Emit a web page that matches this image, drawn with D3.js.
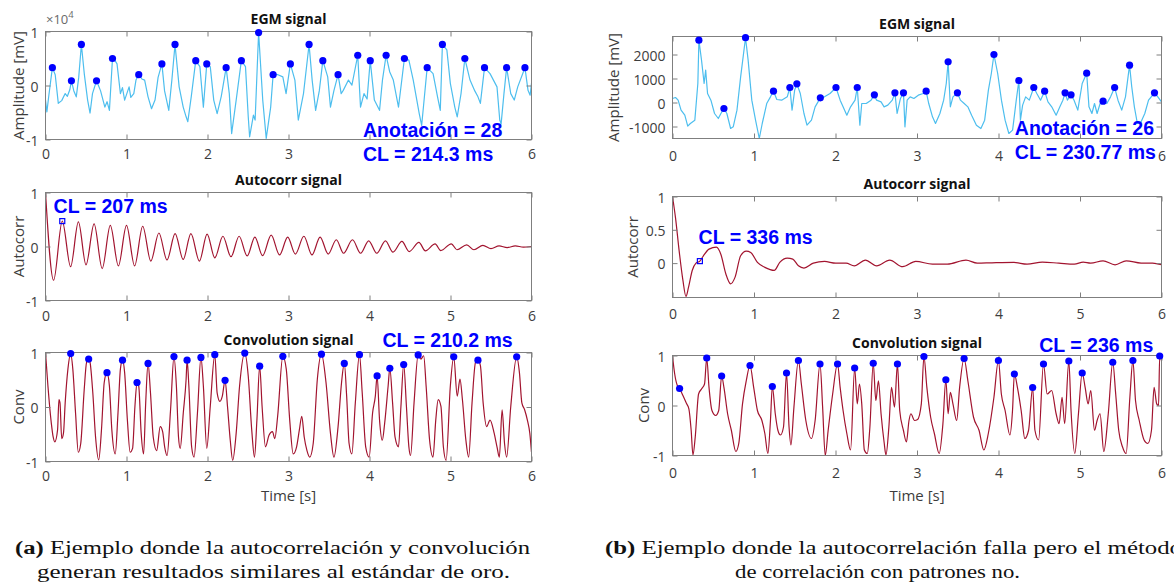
<!DOCTYPE html>
<html>
<head>
<meta charset="utf-8">
<script src="https://cdn.jsdelivr.net/npm/d3@7"></script>
<style>
  body { margin: 0; background: #fff; }
  svg { display: block; }
</style>
</head>
<body>
<svg id="fig" width="1174" height="585"></svg>
<script>
// ---------- data: [time s, value] ----------
const timeTicks = [0, 1, 2, 3, 4, 5, 6];

// (a) EGM signal, mV (axis shown x10^4)
const egmA = [[0,-2700],[0.017,-4900],[0.04,-2000],[0.085,3300],[0.12,2000],[0.158,-3300],[0.2,-2800],[0.243,-1500],[0.27,-2000],[0.3,-800],[0.32,870],[0.35,-1000],[0.38,-2100],[0.41,1500],[0.443,7600],[0.48,2000],[0.52,-2700],[0.55,-5100],[0.58,-1500],[0.63,870],[0.68,-1000],[0.733,-4000],[0.76,-3000],[0.789,-4600],[0.827,5000],[0.855,4700],[0.883,4000],[0.925,-1500],[0.95,-400],[0.977,-2700],[1.032,-250],[1.053,-2200],[1.09,-1500],[1.117,1000],[1.151,2000],[1.19,1200],[1.224,1000],[1.266,-2100],[1.309,-4300],[1.352,-2700],[1.39,1500],[1.437,4000],[1.47,-1000],[1.522,-4600],[1.56,1000],[1.599,7600],[1.65,-250],[1.7,-4000],[1.736,-5800],[1.757,-6700],[1.8,-2000],[1.855,4600],[1.906,3500],[1.949,-4000],[1.991,4000],[2.034,3500],[2.077,-2700],[2.119,-5200],[2.17,-2000],[2.23,3300],[2.269,-1500],[2.298,-8900],[2.354,-2700],[2.418,4600],[2.469,3500],[2.503,-5800],[2.52,-9500],[2.567,-5500],[2.588,-6400],[2.631,9800],[2.682,-2700],[2.725,-9800],[2.78,-4000],[2.81,2000],[2.87,2000],[2.93,1600],[2.97,-1500],[3.023,4000],[3.079,1000],[3.121,-6400],[3.185,-1500],[3.254,7600],[3.292,1000],[3.335,-4600],[3.38,-1000],[3.424,4600],[3.484,1600],[3.518,-4000],[3.56,-1000],[3.612,2000],[3.65,-1500],[3.676,-900],[3.74,1000],[3.783,60],[3.855,5600],[3.889,-4000],[3.932,-1500],[3.97,-2500],[4.009,4600],[4.06,-2700],[4.124,-4600],[4.16,1000],[4.205,5600],[4.25,2500],[4.294,1000],[4.358,-4000],[4.431,5000],[4.486,4700],[4.54,1000],[4.614,-5200],[4.644,-7400],[4.712,3300],[4.785,2200],[4.84,-2100],[4.874,-4600],[4.9,7600],[4.955,6600],[4.998,400],[5.053,-4000],[5.083,-5800],[5.13,-1500],[5.177,5000],[5.241,1000],[5.3,-1000],[5.339,-2100],[5.369,-3300],[5.42,3300],[5.488,2200],[5.574,-250],[5.608,-6400],[5.625,-7100],[5.66,-1500],[5.693,3300],[5.744,-1500],[5.787,-2700],[5.83,-250],[5.919,3300],[5.957,-900],[5.983,-1800],[6,400]];
const egmPeaksA = [[0.085,3300],[0.32,870],[0.443,7600],[0.63,870],[0.827,5000],[1.151,2000],[1.437,4000],[1.599,7600],[1.855,4600],[1.991,4000],[2.23,3300],[2.418,4600],[2.631,9800],[2.81,2000],[3.023,4000],[3.254,7600],[3.424,4600],[3.612,2000],[3.855,5600],[4.009,4600],[4.205,5600],[4.431,5000],[4.712,3300],[4.9,7600],[5.177,5000],[5.42,3300],[5.693,3300],[5.919,3300]];

// (a) autocorrelation
const acA = [[0,1],[0.10,-0.625],[0.207,0.47],[0.31,-0.375],[0.406,0.456],[0.50,-0.34],[0.60,0.42],[0.70,-0.41],[0.80,0.39],[0.90,-0.36],[1.0,0.39],[1.10,-0.36],[1.2,0.375],[1.30,-0.27],[1.40,0.25],[1.50,-0.25],[1.60,0.24],[1.70,-0.24],[1.795,0.24],[1.90,-0.27],[1.995,0.23],[2.09,-0.21],[2.19,0.19],[2.29,-0.19],[2.39,0.19],[2.49,-0.175],[2.585,0.175],[2.68,-0.17],[2.786,0.21],[2.89,-0.156],[2.99,0.175],[3.085,-0.14],[3.19,0.19],[3.29,-0.156],[3.39,0.175],[3.49,-0.14],[3.59,0.125],[3.68,-0.125],[3.79,0.125],[3.89,-0.125],[3.99,0.106],[4.09,-0.125],[4.197,0.106],[4.29,-0.106],[4.4,0.094],[4.49,-0.094],[4.61,0.075],[4.69,-0.08],[4.81,0.05],[4.88,-0.075],[5.01,0.05],[5.08,-0.06],[5.2,0.03],[5.29,-0.06],[5.4,0.02],[5.5,-0.04],[5.6,0.01],[5.7,-0.02],[5.8,0.01],[5.9,-0.01],[6,0]];
const acMarkA = [[0.207,0.47]];

// (a) convolution
const convA = [[0,1],[0.03,0.385],[0.072,-0.3],[0.094,-0.545],[0.115,-0.64],[0.149,-0.42],[0.166,0.137],[0.179,0.075],[0.2,-0.58],[0.222,-0.48],[0.243,0.075],[0.277,0.7],[0.311,0.98],[0.337,0.7],[0.371,-0.11],[0.405,-0.83],[0.435,-0.67],[0.478,0.32],[0.507,0.82],[0.533,0.88],[0.55,0.82],[0.584,0.26],[0.618,-0.55],[0.657,-0.97],[0.691,-0.42],[0.725,0.45],[0.759,0.63],[0.789,0.385],[0.819,-0.42],[0.861,-0.86],[0.895,-0.11],[0.925,0.7],[0.951,0.86],[0.977,0.63],[1.011,-0.24],[1.045,-0.83],[1.075,-0.76],[1.104,0.01],[1.13,0.45],[1.151,0.385],[1.181,-0.48],[1.211,-0.86],[1.237,0.075],[1.266,0.8],[1.296,0.26],[1.33,-0.55],[1.373,-0.8],[1.416,-0.36],[1.446,-0.45],[1.471,-0.73],[1.501,-0.89],[1.544,-0.05],[1.586,0.925],[1.616,0.385],[1.642,-0.55],[1.663,-0.76],[1.701,-0.11],[1.736,0.51],[1.748,0.86],[1.77,0.385],[1.804,-0.73],[1.834,-0.92],[1.876,-0.11],[1.919,0.91],[1.949,0.385],[1.991,-0.76],[2.034,0.01],[2.09,0.96],[2.119,0.26],[2.153,0.105],[2.183,0.2],[2.217,0.49],[2.247,0.01],[2.281,-0.61],[2.311,-0.98],[2.354,-0.48],[2.396,0.385],[2.46,0.99],[2.503,0.57],[2.546,-0.42],[2.58,-0.92],[2.61,-0.24],[2.644,0.75],[2.674,0.01],[2.716,-0.73],[2.759,-0.52],[2.802,-0.45],[2.831,-0.58],[2.866,-0.17],[2.93,0.93],[2.972,0.7],[3.015,-0.24],[3.058,-0.86],[3.1,-0.73],[3.134,-0.42],[3.164,-0.17],[3.194,-0.55],[3.228,-0.8],[3.262,-0.92],[3.305,-0.67],[3.356,0.51],[3.407,0.97],[3.463,0.45],[3.518,-0.48],[3.561,-0.92],[3.612,-0.36],[3.655,0.45],[3.689,0.8],[3.718,0.2],[3.748,-0.67],[3.782,-0.86],[3.825,0.075],[3.876,0.96],[3.91,0.26],[3.953,-0.73],[3.996,-0.92],[4.038,-0.11],[4.072,0.2],[4.094,0.57],[4.124,-0.24],[4.158,-0.61],[4.187,-0.3],[4.23,0.385],[4.251,0.71],[4.285,0.075],[4.315,-0.55],[4.358,-0.73],[4.388,0.01],[4.422,0.78],[4.456,0.01],[4.486,-0.73],[4.507,-0.89],[4.55,0.075],[4.601,0.955],[4.635,0.88],[4.669,0.94],[4.699,0.385],[4.742,-0.61],[4.784,-0.92],[4.818,-0.24],[4.848,0.137],[4.882,0.01],[4.912,-0.73],[4.946,-0.98],[4.998,0.385],[5.04,0.92],[5.083,0.2],[5.117,0.51],[5.147,0.137],[5.19,-0.61],[5.224,-0.92],[5.266,0.075],[5.309,0.82],[5.339,0.86],[5.369,0.76],[5.403,0.075],[5.446,-0.36],[5.488,-0.24],[5.539,-0.48],[5.574,-0.73],[5.603,-0.92],[5.637,-0.05],[5.667,-0.67],[5.693,-0.92],[5.744,0.01],[5.817,0.92],[5.851,0.63],[5.881,0.075],[5.915,-0.05],[5.949,-0.24],[5.979,-0.48],[6,-0.83]];
const convPeaksA = [[0.311,0.98],[0.533,0.88],[0.759,0.63],[0.951,0.86],[1.13,0.45],[1.266,0.8],[1.586,0.925],[1.748,0.86],[1.919,0.91],[2.09,0.96],[2.217,0.49],[2.46,0.99],[2.644,0.75],[2.93,0.93],[3.407,0.97],[3.689,0.8],[3.876,0.96],[4.094,0.57],[4.251,0.71],[4.422,0.78],[4.601,0.955],[5.04,0.92],[5.339,0.86],[5.817,0.92]];

// (b) EGM signal, mV
const egmB = [[0,167],[0.037,208],[0.069,97],[0.105,-319],[0.151,-528],[0.187,-986],[0.219,-875],[0.274,-736],[0.311,792],[0.324,2597],[0.356,1764],[0.388,792],[0.407,1347],[0.43,375],[0.471,97],[0.516,-458],[0.562,-667],[0.594,-458],[0.631,-250],[0.667,-458],[0.713,-1083],[0.745,-1014],[0.791,-319],[0.836,1069],[0.896,2700],[0.928,1764],[0.973,97],[1.019,-736],[1.065,-1500],[1.101,-875],[1.156,-42],[1.202,236],[1.239,472],[1.28,125],[1.339,97],[1.408,236],[1.44,625],[1.467,-320],[1.499,514],[1.526,778],[1.568,375],[1.613,-458],[1.65,-944],[1.705,-736],[1.75,-181],[1.814,194],[1.865,236],[1.933,375],[2.006,625],[2.057,97],[2.093,-181],[2.139,-528],[2.185,-181],[2.24,97],[2.267,625],[2.299,-944],[2.322,-42],[2.377,-42],[2.436,97],[2.477,320],[2.504,97],[2.559,28],[2.596,-181],[2.642,-111],[2.697,97],[2.729,403],[2.756,-458],[2.797,167],[2.834,403],[2.852,-1014],[2.879,97],[2.916,236],[2.962,167],[3.016,306],[3.076,375],[3.112,472],[3.144,-42],[3.19,-597],[3.227,-875],[3.281,-458],[3.327,97],[3.359,792],[3.382,1694],[3.409,-181],[3.441,236],[3.496,403],[3.533,97],[3.579,-42],[3.624,-181],[3.67,-528],[3.729,-944],[3.784,-1083],[3.83,-736],[3.876,514],[3.912,1208],[3.944,2000],[3.99,1208],[4.036,97],[4.081,-736],[4.127,-1292],[4.173,-1153],[4.218,97],[4.25,917],[4.269,-736],[4.296,-111],[4.333,236],[4.378,97],[4.433,625],[4.47,375],[4.516,97],[4.566,472],[4.607,28],[4.653,-181],[4.707,-528],[4.753,-181],[4.79,97],[4.817,403],[4.845,97],[4.89,320],[4.927,97],[4.973,-319],[5.027,792],[5.082,1222],[5.11,-181],[5.146,-458],[5.178,-42],[5.21,-458],[5.247,-42],[5.283,56],[5.329,-42],[5.375,236],[5.425,625],[5.466,97],[5.512,-319],[5.558,236],[5.608,1556],[5.635,653],[5.667,-181],[5.704,-875],[5.74,-875],[5.795,-458],[5.841,97],[5.914,403],[5.955,236],[6,28]];
const egmPeaksB = [[0.324,2597],[0.631,-250],[0.896,2700],[1.239,472],[1.44,625],[1.526,778],[1.814,194],[2.006,625],[2.267,625],[2.477,320],[2.729,403],[2.834,403],[3.112,472],[3.382,1694],[3.496,403],[3.944,2000],[4.25,917],[4.433,625],[4.566,472],[4.817,403],[4.89,320],[5.082,1222],[5.283,56],[5.425,625],[5.608,1556],[5.914,403]];

// (b) autocorrelation
const acB = [[0,1],[0.037,0.68],[0.082,0.18],[0.128,-0.26],[0.165,-0.5],[0.197,-0.36],[0.242,-0.11],[0.288,0],[0.336,0.03],[0.379,0.11],[0.448,0.21],[0.539,0.24],[0.594,0.13],[0.654,-0.16],[0.713,-0.31],[0.768,-0.21],[0.836,0.11],[0.905,0.18],[0.96,0.16],[1.042,0.01],[1.133,-0.064],[1.248,-0.11],[1.316,0.01],[1.408,0.074],[1.476,0.06],[1.545,-0.04],[1.613,-0.074],[1.728,0],[1.865,0.025],[2.002,0],[2.13,0],[2.23,-0.04],[2.367,0.045],[2.505,-0.04],[2.665,0.045],[2.824,-0.054],[2.984,0.025],[3.19,-0.015],[3.373,-0.015],[3.601,0.045],[3.739,0],[3.92,0.005],[4.19,0.01],[4.35,-0.015],[4.538,0.015],[4.74,0],[4.93,-0.015],[5.04,0.015],[5.13,0],[5.283,0.035],[5.43,-0.025],[5.567,0.035],[5.75,0],[5.89,0],[6,-0.025]];
const acMarkB = [[0.336,0.03]];

// (b) convolution
const convB = [[0,0.99],[0.027,0.63],[0.059,0.4],[0.087,0.34],[0.128,0.2],[0.174,0.033],[0.201,-0.066],[0.229,-0.495],[0.251,-0.99],[0.279,-0.63],[0.32,0.23],[0.356,0.33],[0.393,0.43],[0.42,0.95],[0.448,0.363],[0.484,-0.1],[0.53,-0.2],[0.567,-0.1],[0.603,0.59],[0.631,0.363],[0.676,-0.165],[0.722,-0.495],[0.777,-0.92],[0.813,-0.76],[0.859,0.033],[0.905,0.495],[0.951,0.8],[0.996,0.363],[1.042,-0.1],[1.097,-0.3],[1.133,-0.56],[1.17,-0.96],[1.202,-0.3],[1.225,0.38],[1.261,-0.165],[1.293,-0.495],[1.325,-0.59],[1.362,-0.43],[1.399,0.65],[1.43,-0.43],[1.453,-0.79],[1.49,-0.033],[1.545,0.9],[1.581,0.43],[1.636,-0.3],[1.705,-0.66],[1.75,-0.3],[1.81,0.83],[1.842,-0.033],[1.874,-1],[1.91,-0.495],[1.965,0.23],[2.025,0.83],[2.057,0.363],[2.093,-0.1],[2.139,-0.56],[2.185,-0.89],[2.235,0.75],[2.267,0.033],[2.294,0.43],[2.322,0.033],[2.354,-0.89],[2.39,-0.96],[2.422,-0.43],[2.463,0.845],[2.495,0.1],[2.527,0.495],[2.559,-0.165],[2.596,-0.73],[2.619,-0.99],[2.655,-0.43],[2.687,0.363],[2.724,-0.033],[2.76,0.83],[2.788,-0.1],[2.833,-0.495],[2.87,-0.73],[2.902,-0.3],[2.925,-0.165],[2.97,-0.3],[3.007,-0.28],[3.053,0.033],[3.085,0.98],[3.121,0.363],[3.167,-0.23],[3.213,-0.56],[3.272,-0.96],[3.318,-0.363],[3.354,0.515],[3.382,-0.165],[3.409,0.264],[3.441,0.033],[3.487,-0.3],[3.523,0.363],[3.578,0.94],[3.624,0.495],[3.693,-0.23],[3.761,-0.495],[3.82,-0.89],[3.875,-0.56],[3.944,0.165],[3.999,0.9],[4.035,0.23],[4.081,-0.1],[4.14,-0.59],[4.172,-0.1],[4.195,0.63],[4.232,0.363],[4.278,-0.1],[4.323,-0.66],[4.369,-0.495],[4.419,0.36],[4.447,-0.495],[4.492,-0.69],[4.552,0.83],[4.597,0.23],[4.652,0.3],[4.707,-0.165],[4.744,-0.363],[4.78,0.165],[4.812,-0.363],[4.863,0.89],[4.89,-0.1],[4.936,-0.96],[4.981,-0.165],[5.027,0.65],[5.063,0.363],[5.1,0.033],[5.132,0.3],[5.178,-0.495],[5.21,-0.3],[5.246,-0.165],[5.292,-0.92],[5.347,-0.165],[5.402,0.865],[5.438,0.23],[5.475,-0.495],[5.521,-0.825],[5.566,-0.96],[5.612,0.165],[5.649,0.9],[5.681,0.1],[5.727,-0.3],[5.786,-0.69],[5.832,-0.76],[5.877,-0.495],[5.909,0.363],[5.941,0.033],[5.964,0],[5.978,0.99],[6,0.9]];
const convPeaksB = [[0.087,0.34],[0.42,0.95],[0.603,0.59],[0.951,0.8],[1.225,0.38],[1.399,0.65],[1.545,0.9],[1.81,0.83],[2.025,0.83],[2.235,0.75],[2.463,0.845],[2.76,0.83],[3.085,0.98],[3.354,0.515],[3.578,0.94],[3.999,0.9],[4.195,0.63],[4.419,0.36],[4.552,0.83],[4.863,0.89],[5.027,0.65],[5.402,0.865],[5.649,0.9],[5.978,0.99]];

// ---------- drawing ----------
const svg = d3.select("#fig");
svg.append("rect").attr("width", 1174).attr("height", 585).attr("fill", "#fff");

const sans = "'Open Sans', 'Noto Sans', sans-serif";
const arial = "'Liberation Sans', Arial, sans-serif";
const serif = "'Liberation Serif', 'DejaVu Serif', serif";
const boxColor = "#7f7f7f";
const labelColor = "#3d3d3d";
const blue = "#0000ff";
const egmColor = "#4dbeee";
const redColor = "#a2142f";

let clipId = 0;

function panel(o) {
  const x = d3.scaleLinear().domain([0, 6]).range([o.x0, o.x1]);
  const y = d3.scaleLinear().domain(o.yDomain).range([o.y1, o.y0]);
  const g = svg.append("g");

  const id = "clip" + (clipId++);
  svg.append("clipPath").attr("id", id)
    .append("rect")
    .attr("x", o.x0).attr("y", o.y0)
    .attr("width", o.x1 - o.x0).attr("height", o.y1 - o.y0);

  const line = d3.line()
    .x(d => x(d[0]))
    .y(d => y(d[1]))
    .curve(o.curve || d3.curveLinear);

  g.append("path")
    .datum(o.data)
    .attr("clip-path", `url(#${id})`)
    .attr("fill", "none")
    .attr("stroke", o.color)
    .attr("stroke-width", 1.2)
    .attr("stroke-linejoin", "round")
    .attr("d", line);

  // ticks inside on all four sides
  const styleAxis = sel => {
    sel.select(".domain").remove();
    sel.selectAll(".tick line").attr("stroke", boxColor);
    sel.selectAll("text")
      .attr("fill", labelColor)
      .style("font-family", sans)
      .style("font-size", "14px");
  };

  // tick labels that the blue notes cover are not shown
  const hidden = o.hideX || [];
  const xb = g.append("g").attr("transform", `translate(0,${o.y1})`)
    .call(d3.axisBottom(x).tickValues(timeTicks).tickSize(-5)
      .tickFormat(d => hidden.includes(d) ? "" : String(d)));
  styleAxis(xb);
  xb.selectAll("text").attr("y", o.xLabelOff || 15).attr("dy", null)
    .attr("dominant-baseline", "central");

  g.append("g").attr("transform", `translate(0,${o.y0})`)
    .call(d3.axisTop(x).tickValues(timeTicks).tickSize(-5).tickFormat(""))
    .call(styleAxis);

  const yl = g.append("g").attr("transform", `translate(${o.x0},0)`)
    .call(d3.axisLeft(y).tickValues(o.yTicks).tickSize(-5).tickFormat(o.yFormat || (d => String(d))));
  styleAxis(yl);
  yl.selectAll("text").attr("x", -7).attr("dy", null)
    .attr("dominant-baseline", "central");

  g.append("g").attr("transform", `translate(${o.x1},0)`)
    .call(d3.axisRight(y).tickValues(o.yTicks).tickSize(-5).tickFormat(""))
    .call(styleAxis);

  g.append("rect")
    .attr("x", o.x0).attr("y", o.y0)
    .attr("width", o.x1 - o.x0).attr("height", o.y1 - o.y0)
    .attr("fill", "none").attr("stroke", boxColor).attr("stroke-width", 1);

  // markers
  if (o.peaks) {
    g.selectAll(".pk").data(o.peaks).join("circle")
      .attr("cx", d => x(d[0])).attr("cy", d => y(d[1]))
      .attr("r", 3.6).attr("fill", blue);
  }
  if (o.mark) {
    g.selectAll(".mk").data(o.mark).join("rect")
      .attr("x", d => x(d[0]) - 2.5).attr("y", d => y(d[1]) - 2.5)
      .attr("width", 5).attr("height", 5)
      .attr("fill", "none").attr("stroke", blue).attr("stroke-width", 1.2);
  }

  // title
  g.append("text")
    .attr("x", (o.x0 + o.x1) / 2).attr("y", o.y0 - 13)
    .attr("text-anchor", "middle").attr("dominant-baseline", "central")
    .style("font-family", sans).style("font-size", "14px").style("font-weight", "bold")
    .attr("fill", "#111").text(o.title);

  // y label
  g.append("text")
    .attr("transform", `translate(${o.ylabelX},${(o.y0 + o.y1) / 2}) rotate(-90)`)
    .attr("text-anchor", "middle").attr("dominant-baseline", "central")
    .style("font-family", sans).style("font-size", "15px")
    .attr("fill", labelColor).text(o.ylabel);

  if (o.xlabel) {
    g.append("text")
      .attr("x", (o.x0 + o.x1) / 2).attr("y", o.y1 + o.xlabelOff)
      .attr("text-anchor", "middle").attr("dominant-baseline", "central")
      .style("font-family", sans).style("font-size", "15px")
      .attr("fill", labelColor).text(o.xlabel);
  }

  // blue annotations, placed in data coordinates
  (o.notes || []).forEach(n => {
    g.append("text")
      .attr("x", x(n.t)).attr("y", y(n.v))
      .attr("dominant-baseline", "central")
      .style("font-family", arial).style("font-size", "19.5px").style("font-weight", "bold")
      .attr("fill", blue).text(n.text);
  });

  return { x, y, g };
}

// ----- column (a) -----
const A = { x0: 45.5, x1: 531.5 };
const egmPanelA = panel({
  ...A, y0: 31.5, y1: 139.5,
  yDomain: [-10000, 10000], yTicks: [-10000, 0, 10000], yFormat: d => String(d / 10000),
  data: egmA, color: egmColor, peaks: egmPeaksA,
  title: "EGM signal", ylabel: "Amplitude [mV]", ylabelX: 18, xLabelOff: 14,
  hideX: [4, 5],
  notes: [
    { t: 3.92, v: -8150, text: "Anotación = 28" },
    { t: 3.92, v: -12700, text: "CL = 214.3 ms" }
  ]
});
const expo = egmPanelA.g.append("text")
  .attr("x", 46).attr("y", 19).attr("dominant-baseline", "central")
  .style("font-family", sans).style("font-size", "13px").attr("fill", "#6a6a6a");
expo.append("tspan").text("×10");
expo.append("tspan").attr("dy", -5).style("font-size", "9.5px").text("4");

panel({
  ...A, y0: 192.5, y1: 300.5,
  yDomain: [-1, 1], yTicks: [-1, 0, 1],
  data: acA, color: redColor, mark: acMarkA, curve: d3.curveMonotoneX,
  title: "Autocorr signal", ylabel: "Autocorr", ylabelX: 18, xLabelOff: 15,
  notes: [{ t: 0.1, v: 0.75, text: "CL = 207 ms" }]
});

panel({
  ...A, y0: 352.5, y1: 461.5,
  yDomain: [-1, 1], yTicks: [-1, 0, 1],
  data: convA, color: redColor, peaks: convPeaksA, curve: d3.curveMonotoneX,
  title: "Convolution signal", ylabel: "Conv", ylabelX: 18, xLabelOff: 14,
  xlabel: "Time [s]", xlabelOff: 33,
  notes: [{ t: 4.16, v: 1.235, text: "CL = 210.2 ms" }]
});

// ----- column (b) -----
const B = { x0: 672.5, x1: 1161.5 };
panel({
  ...B, y0: 36.5, y1: 138.5,
  yDomain: [-1500, 2750], yTicks: [-1000, 0, 1000, 2000],
  data: egmB, color: egmColor, peaks: egmPeaksB,
  title: "EGM signal", ylabel: "Amplitude [mV]", ylabelX: 613, xLabelOff: 17,
  hideX: [5],
  notes: [
    { t: 4.2, v: -1083, text: "Anotación = 26" },
    { t: 4.2, v: -2050, text: "CL = 230.77 ms" }
  ]
});

panel({
  ...B, y0: 196.5, y1: 297.5,
  yDomain: [-0.516, 1], yTicks: [0, 0.5, 1],
  data: acB, color: redColor, mark: acMarkB, curve: d3.curveMonotoneX,
  title: "Autocorr signal", ylabel: "Autocorr", ylabelX: 632, xLabelOff: 16,
  notes: [{ t: 0.32, v: 0.387, text: "CL = 336 ms" }]
});

panel({
  ...B, y0: 355.5, y1: 455.5,
  yDomain: [-1, 1], yTicks: [-1, 0, 1],
  data: convB, color: redColor, peaks: convPeaksB, curve: d3.curveMonotoneX,
  title: "Convolution signal", ylabel: "Conv", ylabelX: 643, xLabelOff: 17,
  xlabel: "Time [s]", xlabelOff: 39,
  notes: [{ t: 4.5, v: 1.22, text: "CL = 236 ms" }]
});

// ----- captions -----
function caption(xPos, yPos, tag, body, len, anchor) {
  const t = svg.append("text")
    .attr("x", xPos).attr("y", yPos)
    .attr("text-anchor", anchor || "start")
    .style("font-family", serif).style("font-size", "18px").attr("fill", "#111");
  if (tag) t.append("tspan").style("font-weight", "bold").text(tag + " ");
  t.append("tspan").text(body);
  if (len) t.attr("textLength", len).attr("lengthAdjust", "spacingAndGlyphs");
}
caption(15, 554, "(a)", "Ejemplo donde la autocorrelación y convolución", 515);
caption(37, 578, null, "generan resultados similares al estándar de oro.", 473);
caption(605, 554, "(b)", "Ejemplo donde la autocorrelación falla pero el método", 577);
caption(735, 578, null, "de correlación con patrones no.", 285);
</script>
</body>
</html>
